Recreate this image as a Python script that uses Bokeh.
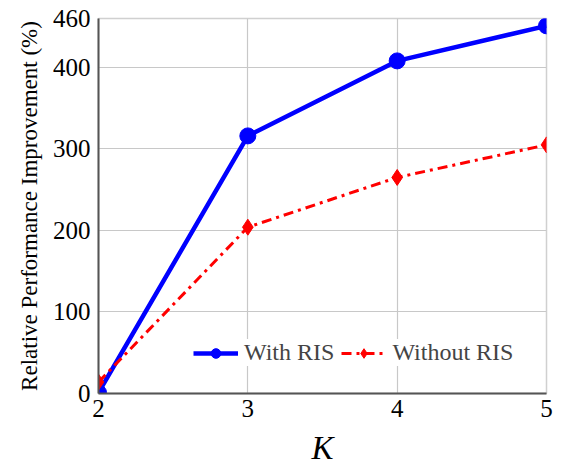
from bokeh.plotting import figure
from bokeh.models import FixedTicker, Legend, LegendItem
from bokeh.embed import file_html
from bokeh.resources import INLINE

K = [2, 3, 4, 5]
with_ris = [1, 316, 408, 451]
without_ris = [14, 204, 265, 305]
x_ticks = [2, 3, 4, 5]
y_ticks = [0, 100, 200, 300, 400, 460]

FONT = "Liberation Serif"

p = figure(width=556, height=469, output_backend="svg", toolbar_location=None,
           x_range=(2, 5), y_range=(0, 460),
           min_border_left=98, min_border_right=10, min_border_top=18, min_border_bottom=76)
p.outline_line_color = "#d0d0d0"
p.outline_line_width = 1.5

for ax in (p.xaxis, p.yaxis):
    ax.major_tick_in = 0
    ax.major_tick_out = 0
    ax.minor_tick_line_color = None
    ax.axis_line_color = "#555555"
    ax.axis_line_width = 2
    ax.major_label_text_font = FONT
    ax.major_label_text_font_size = "25px"
    ax.major_label_text_color = "black"
    ax.axis_label_text_font = FONT
    ax.axis_label_text_color = "black"

p.xaxis.ticker = FixedTicker(ticks=x_ticks)
p.yaxis.ticker = FixedTicker(ticks=y_ticks)
p.xaxis.axis_label = "K"
p.xaxis.axis_label_text_font_style = "italic"
p.xaxis.axis_label_text_font_size = "33px"
p.xaxis.axis_label_standoff = 10
p.xaxis.major_label_standoff = 6
p.yaxis.axis_label = "Relative Performance Improvement (%)"
p.yaxis.axis_label_text_font_style = "normal"
p.yaxis.axis_label_text_font_size = "23px"
p.yaxis.axis_label_standoff = 8
p.yaxis.major_label_standoff = 8

p.xgrid.grid_line_color = "#c8c8c8"
p.ygrid.grid_line_color = "#c8c8c8"
p.xgrid.grid_line_width = 1.2
p.ygrid.grid_line_width = 1.2

l1 = p.line(K, with_ris, line_color="blue", line_width=4.5)
m1 = p.scatter(K, with_ris, marker="circle", size=16, fill_color="blue", line_color="blue")
l2 = p.line(K, without_ris, line_color="red", line_width=3, line_dash="10 5 3 5")
m2 = p.scatter(K, without_ris, marker="diamond", size=16, fill_color="red", line_color="red")

legend = Legend(items=[LegendItem(label="With RIS", renderers=[l1, m1]),
                       LegendItem(label="Without RIS", renderers=[l2, m2])],
                orientation="horizontal", location=(95, 27))
legend.border_line_color = None
legend.background_fill_alpha = 1
legend.label_text_font = FONT
legend.label_text_font_size = "24px"
legend.glyph_width = 45
legend.glyph_height = 24
legend.label_standoff = 6
legend.spacing = 7
legend.padding = 4
legend.margin = 0
p.add_layout(legend, "center")

open("out.html", "w").write(file_html(p, INLINE))
